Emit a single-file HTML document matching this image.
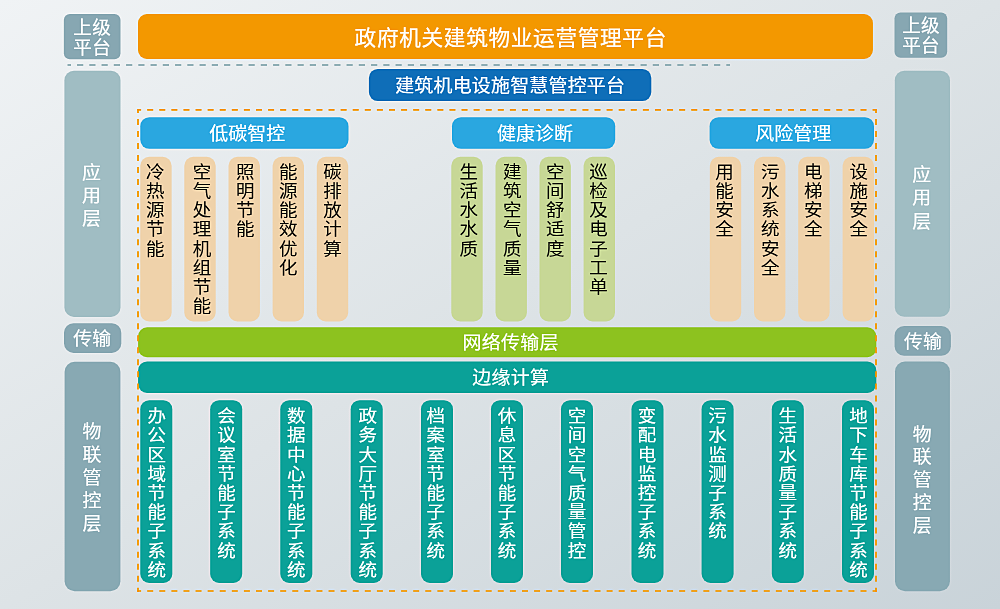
<!DOCTYPE html>
<html lang="zh-CN"><head><meta charset="utf-8"><title>建筑机电设施智慧管控平台</title>
<style>
html,body{margin:0;padding:0}
body{width:1000px;height:609px;overflow:hidden;background:linear-gradient(to bottom right,#f0f3f5 0%,#dde3e6 50%,#c9d3d9 100%)}
svg{display:block;will-change:transform;font-family:'Liberation Sans','Noto Sans CJK SC',sans-serif;text-anchor:middle;stroke-linejoin:round}
</style></head><body>
<svg width="1000" height="609" viewBox="0 0 1000 609">
<defs>
<linearGradient id="bg" gradientUnits="userSpaceOnUse" x1="229.5" y1="-139.8" x2="770.5" y2="748.8">
<stop offset="0" stop-color="#f0f3f5"/><stop offset="0.5" stop-color="#dde3e6"/><stop offset="1" stop-color="#c9d3d9"/>
</linearGradient>
<filter id="sh" filterUnits="userSpaceOnUse" x="-20" y="-20" width="1040" height="649" color-interpolation-filters="sRGB">
<feGaussianBlur stdDeviation="0.8" result="b"/>
<feComposite in="SourceGraphic" in2="b" operator="arithmetic" k1="0" k2="1.42" k3="-0.42" k4="0"/>
</filter>
</defs>
<g filter="url(#sh)">
<rect x="-20" y="-20" width="1040" height="649" fill="url(#bg)"/>
<path d="M67.5 65H730" fill="none" stroke="#7fa3aa" stroke-width="1.6" stroke-dasharray="6.2 6.05" stroke-dashoffset="2.7"/>
<rect x="63.85" y="14" width="56.65" height="45.2" rx="6" fill="#87a7b2"/>
<rect x="894.5" y="12.5" width="52.7" height="45.3" rx="6" fill="#87a7b2"/>
<rect x="64.4" y="70.7" width="56.1" height="246.2" rx="9.5" fill="#a0bdc3"/>
<rect x="894.8" y="70.7" width="55.2" height="246.0" rx="9.5" fill="#a0bdc3"/>
<rect x="64" y="323.2" width="57.3" height="29.7" rx="9.5" fill="#87a7b2"/>
<rect x="894.6" y="326" width="56.3" height="29.8" rx="9.5" fill="#87a7b2"/>
<rect x="64.6" y="361.7" width="55.8" height="229.6" rx="10" fill="#88a9b3"/>
<rect x="895" y="361.6" width="54.9" height="229.7" rx="10" fill="#88a9b3"/>
<rect x="138" y="14" width="734.9" height="45" rx="9" fill="#f39800"/>
<rect x="368.9" y="68.9" width="282.4" height="32.2" rx="9" fill="#0f6eb8"/>
<rect x="140.3" y="117.2" width="208.2" height="31.6" rx="9" fill="#2aa7e0"/>
<rect x="452" y="117.2" width="163.2" height="31.6" rx="9" fill="#2aa7e0"/>
<rect x="709.6" y="117.2" width="164.4" height="31.6" rx="9" fill="#2aa7e0"/>
<rect x="138.1" y="327.3" width="738.2" height="29.9" rx="9" fill="#8dc21f"/>
<rect x="138.1" y="361.4" width="738.2" height="31.6" rx="9" fill="#0ba198"/>
<rect x="140.25" y="156.8" width="31.4" height="164.6" rx="9" fill="#efd2aa"/>
<rect x="184.3" y="156.8" width="31.4" height="164.6" rx="9" fill="#efd2aa"/>
<rect x="228.5" y="156.8" width="31.4" height="164.6" rx="9" fill="#efd2aa"/>
<rect x="272.6" y="156.8" width="31.4" height="164.6" rx="9" fill="#efd2aa"/>
<rect x="316.8" y="156.8" width="31.4" height="164.6" rx="9" fill="#efd2aa"/>
<rect x="451.3" y="156.8" width="31.4" height="164.6" rx="9" fill="#c7d796"/>
<rect x="495.5" y="156.8" width="31.4" height="164.6" rx="9" fill="#c7d796"/>
<rect x="539.5" y="156.8" width="31.4" height="164.6" rx="9" fill="#c7d796"/>
<rect x="583.6" y="156.8" width="31.4" height="164.6" rx="9" fill="#c7d796"/>
<rect x="709.8" y="156.8" width="31.4" height="164.6" rx="9" fill="#efd2aa"/>
<rect x="754" y="156.8" width="31.4" height="164.6" rx="9" fill="#efd2aa"/>
<rect x="798.2" y="156.8" width="31.4" height="164.6" rx="9" fill="#efd2aa"/>
<rect x="842.6" y="156.8" width="31.4" height="164.6" rx="9" fill="#efd2aa"/>
<rect x="140.3" y="400.2" width="32.0" height="182.8" rx="9" fill="#0ba198"/>
<rect x="210.2" y="400.2" width="32.0" height="182.8" rx="9" fill="#0ba198"/>
<rect x="280.3" y="400.2" width="32.0" height="182.8" rx="9" fill="#0ba198"/>
<rect x="350.7" y="400.2" width="32.0" height="182.8" rx="9" fill="#0ba198"/>
<rect x="421" y="400.2" width="32" height="182.8" rx="9" fill="#0ba198"/>
<rect x="491" y="400.2" width="32" height="182.8" rx="9" fill="#0ba198"/>
<rect x="561" y="400.2" width="32" height="182.8" rx="9" fill="#0ba198"/>
<rect x="631.5" y="400.2" width="32.0" height="182.8" rx="9" fill="#0ba198"/>
<rect x="701.6" y="400.2" width="32.0" height="182.8" rx="9" fill="#0ba198"/>
<rect x="771.8" y="400.2" width="32.0" height="182.8" rx="9" fill="#0ba198"/>
<rect x="842" y="400.2" width="32" height="182.8" rx="9" fill="#0ba198"/>
<g fill="none" stroke="#f39800" stroke-width="1.65"><path d="M137.2 109.85H876.9" stroke-dasharray="6 6.09" stroke-dashoffset="2.1"/><path d="M137.2 591H876.9" stroke-dasharray="6 6.09" stroke-dashoffset="2.1"/><path d="M138 109V591.9" stroke-dasharray="6 6.017" stroke-dashoffset="2"/><path d="M876 109V591.9" stroke-dasharray="6 6.017" stroke-dashoffset="2"/></g>
<text transform="translate(92.2 33.5) scale(1.03 1)" font-size="18" letter-spacing="0.4" fill="#fff" stroke="#fff" stroke-width="0.15">上级</text>
<text transform="translate(92.2 53.5) scale(1.03 1)" font-size="18" letter-spacing="0.4" fill="#fff" stroke="#fff" stroke-width="0.15">平台</text>
<text transform="translate(921.1 32.2) scale(1.03 1)" font-size="18" letter-spacing="0.4" fill="#fff" stroke="#fff" stroke-width="0.15">上级</text>
<text transform="translate(921.1 52.2) scale(1.03 1)" font-size="18" letter-spacing="0.4" fill="#fff" stroke="#fff" stroke-width="0.15">平台</text>
<text transform="translate(91.5 178.5) scale(1.05 1)" x="0 0 0" y="0.0 23.45 46.9" font-size="18" font-weight="400" fill="#fff" stroke="#fff" stroke-width="0.15">应用层</text>
<text transform="translate(921.8 181) scale(1.05 1)" x="0 0 0" y="0.0 23.45 46.9" font-size="18" font-weight="400" fill="#fff" stroke="#fff" stroke-width="0.15">应用层</text>
<text transform="translate(92.3 345.2) scale(1.03 1)" font-size="18.3" letter-spacing="0.1" fill="#fff" stroke="#fff" stroke-width="0.15">传输</text>
<text transform="translate(923 347.9) scale(1.03 1)" font-size="18.3" letter-spacing="0.1" fill="#fff" stroke="#fff" stroke-width="0.15">传输</text>
<text transform="translate(91.9 437.9) scale(1.05 1)" x="0 0 0 0 0" y="0.0 22.95 45.9 68.85 91.8" font-size="18" font-weight="400" fill="#fff" stroke="#fff" stroke-width="0.15">物联管控层</text>
<text transform="translate(922.1 440.6) scale(1.05 1)" x="0 0 0 0 0" y="0.0 22.9 45.8 68.7 91.6" font-size="18" font-weight="400" fill="#fff" stroke="#fff" stroke-width="0.15">物联管控层</text>
<text transform="translate(510.8 45) scale(1.03 1)" font-size="21" letter-spacing="0.685" fill="#fff" stroke="#fff" stroke-width="0.22">政府机关建筑物业运营管理平台</text>
<text transform="translate(510.15 92) scale(1.03 1)" font-size="18.4" letter-spacing="0.23" fill="#fff" stroke="#fff" stroke-width="0.18">建筑机电设施智慧管控平台</text>
<text transform="translate(247.3 140) scale(1.03 1)" font-size="18.4" letter-spacing="0.1" fill="#fff" stroke="#fff" stroke-width="0.15">低碳智控</text>
<text transform="translate(535 140) scale(1.03 1)" font-size="18.4" letter-spacing="0.1" fill="#fff" stroke="#fff" stroke-width="0.15">健康诊断</text>
<text transform="translate(793.3 140) scale(1.03 1)" font-size="18.4" letter-spacing="0.1" fill="#fff" stroke="#fff" stroke-width="0.15">风险管理</text>
<text transform="translate(510.6 348.5) scale(1.03 1)" font-size="18.4" letter-spacing="0.3" fill="#fff" stroke="#fff" stroke-width="0.15">网络传输层</text>
<text transform="translate(510.7 383.6) scale(1.03 1)" font-size="18.4" letter-spacing="0.3" fill="#fff" stroke="#fff" stroke-width="0.15">边缘计算</text>
<text transform="translate(155.35 178.15) scale(1.05 1)" x="0 0 0 0 0" y="0.0 19.12 38.24 57.36 76.48" font-size="17.6" font-weight="350" fill="#000" stroke="#000" stroke-width="0.1">冷热源节能</text>
<text transform="translate(202.0 178.15) scale(1.05 1)" x="0 0 0 0 0 0 0 0" y="0.0 19.12 38.24 57.36 76.48 95.6 114.72 133.84" font-size="17.6" font-weight="350" fill="#000" stroke="#000" stroke-width="0.1">空气处理机组节能</text>
<text transform="translate(245.2 178.15) scale(1.05 1)" x="0 0 0 0" y="0.0 19.12 38.24 57.36" font-size="17.6" font-weight="350" fill="#000" stroke="#000" stroke-width="0.1">照明节能</text>
<text transform="translate(288.3 178.15) scale(1.05 1)" x="0 0 0 0 0 0" y="0.0 19.12 38.24 57.36 76.48 95.6" font-size="17.6" font-weight="350" fill="#000" stroke="#000" stroke-width="0.1">能源能效优化</text>
<text transform="translate(332.5 178.15) scale(1.05 1)" x="0 0 0 0 0" y="0.0 19.12 38.24 57.36 76.48" font-size="17.6" font-weight="350" fill="#000" stroke="#000" stroke-width="0.1">碳排放计算</text>
<text transform="translate(468.7 178.15) scale(1.05 1)" x="0 0 0 0 0" y="0.0 19.12 38.24 57.36 76.48" font-size="17.6" font-weight="350" fill="#000" stroke="#000" stroke-width="0.1">生活水水质</text>
<text transform="translate(512.2 178.15) scale(1.05 1)" x="0 0 0 0 0 0" y="0.0 19.12 38.24 57.36 76.48 95.6" font-size="17.6" font-weight="350" fill="#000" stroke="#000" stroke-width="0.1">建筑空气质量</text>
<text transform="translate(555.2 178.15) scale(1.05 1)" x="0 0 0 0 0" y="0.0 19.12 38.24 57.36 76.48" font-size="17.6" font-weight="350" fill="#000" stroke="#000" stroke-width="0.1">空间舒适度</text>
<text transform="translate(598.6 178.15) scale(1.05 1)" x="0 0 0 0 0 0 0" y="0.0 19.12 38.24 57.36 76.48 95.6 114.72" font-size="17.6" font-weight="350" fill="#000" stroke="#000" stroke-width="0.1">巡检及电子工单</text>
<text transform="translate(724.6 178.15) scale(1.05 1)" x="0 0 0 0" y="0.0 19.12 38.24 57.36" font-size="17.6" font-weight="350" fill="#000" stroke="#000" stroke-width="0.1">用能安全</text>
<text transform="translate(770.3 178.15) scale(1.05 1)" x="0 0 0 0 0 0" y="0.0 19.12 38.24 57.36 76.48 95.6" font-size="17.6" font-weight="350" fill="#000" stroke="#000" stroke-width="0.1">污水系统安全</text>
<text transform="translate(813.3 178.15) scale(1.05 1)" x="0 0 0 0" y="0.0 19.12 38.24 57.36" font-size="17.6" font-weight="350" fill="#000" stroke="#000" stroke-width="0.1">电梯安全</text>
<text transform="translate(858.8 178.15) scale(1.05 1)" x="0 0 0 0" y="0.0 19.12 38.24 57.36" font-size="17.6" font-weight="350" fill="#000" stroke="#000" stroke-width="0.1">设施安全</text>
<text transform="translate(156.7 422.3) scale(1.05 1)" x="0 0 0 0 0 0 0 0 0" y="0.0 19.18 38.36 57.54 76.72 95.9 115.08 134.26 153.44" font-size="17.6" font-weight="400" fill="#fff" stroke="#fff" stroke-width="0.15">办公区域节能子系统</text>
<text transform="translate(226.5 422.3) scale(1.05 1)" x="0 0 0 0 0 0 0 0" y="0.0 19.18 38.36 57.54 76.72 95.9 115.08 134.26" font-size="17.6" font-weight="400" fill="#fff" stroke="#fff" stroke-width="0.15">会议室节能子系统</text>
<text transform="translate(296.3 422.3) scale(1.05 1)" x="0 0 0 0 0 0 0 0 0" y="0.0 19.18 38.36 57.54 76.72 95.9 115.08 134.26 153.44" font-size="17.6" font-weight="400" fill="#fff" stroke="#fff" stroke-width="0.15">数据中心节能子系统</text>
<text transform="translate(367.8 422.3) scale(1.05 1)" x="0 0 0 0 0 0 0 0 0" y="0.0 19.18 38.36 57.54 76.72 95.9 115.08 134.26 153.44" font-size="17.6" font-weight="400" fill="#fff" stroke="#fff" stroke-width="0.15">政务大厅节能子系统</text>
<text transform="translate(435.7 422.3) scale(1.05 1)" x="0 0 0 0 0 0 0 0" y="0.0 19.18 38.36 57.54 76.72 95.9 115.08 134.26" font-size="17.6" font-weight="400" fill="#fff" stroke="#fff" stroke-width="0.15">档案室节能子系统</text>
<text transform="translate(507 422.3) scale(1.05 1)" x="0 0 0 0 0 0 0 0" y="0.0 19.18 38.36 57.54 76.72 95.9 115.08 134.26" font-size="17.6" font-weight="400" fill="#fff" stroke="#fff" stroke-width="0.15">休息区节能子系统</text>
<text transform="translate(577 422.3) scale(1.05 1)" x="0 0 0 0 0 0 0 0" y="0.0 19.18 38.36 57.54 76.72 95.9 115.08 134.26" font-size="17.6" font-weight="400" fill="#fff" stroke="#fff" stroke-width="0.15">空间空气质量管控</text>
<text transform="translate(647.0 422.3) scale(1.05 1)" x="0 0 0 0 0 0 0 0" y="0.0 19.18 38.36 57.54 76.72 95.9 115.08 134.26" font-size="17.6" font-weight="400" fill="#fff" stroke="#fff" stroke-width="0.15">变配电监控子系统</text>
<text transform="translate(717.6 422.3) scale(1.05 1)" x="0 0 0 0 0 0 0" y="0.0 19.18 38.36 57.54 76.72 95.9 115.08" font-size="17.6" font-weight="400" fill="#fff" stroke="#fff" stroke-width="0.15">污水监测子系统</text>
<text transform="translate(787.8 422.3) scale(1.05 1)" x="0 0 0 0 0 0 0 0" y="0.0 19.18 38.36 57.54 76.72 95.9 115.08 134.26" font-size="17.6" font-weight="400" fill="#fff" stroke="#fff" stroke-width="0.15">生活水质量子系统</text>
<text transform="translate(858.5 422.3) scale(1.05 1)" x="0 0 0 0 0 0 0 0 0" y="0.0 19.18 38.36 57.54 76.72 95.9 115.08 134.26 153.44" font-size="17.6" font-weight="400" fill="#fff" stroke="#fff" stroke-width="0.15">地下车库节能子系统</text>
</g>
</svg>
</body></html>
